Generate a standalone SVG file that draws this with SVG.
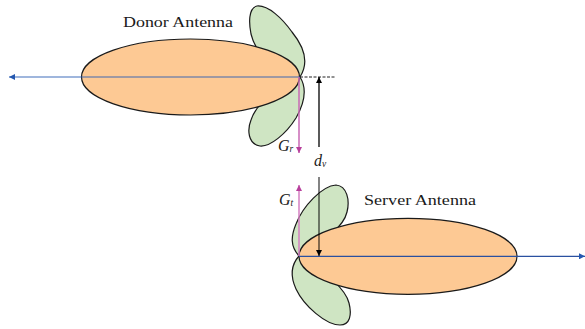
<svg xmlns="http://www.w3.org/2000/svg" width="585" height="329" viewBox="0 0 585 329">
<style>
.ant{fill:#fdc994;stroke:#1a1a1a;stroke-width:1.2}
.lobe{fill:#cfe5c3;stroke:#1a1a1a;stroke-width:1.2}
.lbl{font-family:"Liberation Serif",serif;font-size:15.5px;fill:#1a1a1a}
.sym{font-family:"Liberation Serif",serif;font-size:16px;font-style:italic;fill:#1a1a1a}
.sub{font-size:9.5px}
</style>
<defs>
<marker id="blue" markerUnits="userSpaceOnUse" markerWidth="7" markerHeight="6" refX="6" refY="3" orient="auto"><path d="M0 0L6 3L0 6z" fill="#2558b0"/></marker>
<marker id="black" markerUnits="userSpaceOnUse" markerWidth="7" markerHeight="6" refX="6" refY="3" orient="auto"><path d="M0 0L6 3L0 6z" fill="#000"/></marker>
<marker id="pink" markerUnits="userSpaceOnUse" markerWidth="7" markerHeight="6" refX="6" refY="3" orient="auto"><path d="M0 0L6 3L0 6z" fill="#b83f9c"/></marker>
</defs>
<g id="donor-antenna">
<path class="lobe" d="M300 77C309 63 305 48 292 32C282 18 268 5 257 6C248 8 249 24 251 34C254 46 262 65 300 77Z"/>
<path class="lobe" d="M300 77C307 88 305 102 296 118C286 134 270 147 260 146C248 144 247 130 251 120C255 108 268 92 300 77Z"/>
<ellipse class="ant" cx="190.500" cy="77" rx="109" ry="38"/>
<text class="lbl" x="123" y="26.500" textLength="110" lengthAdjust="spacingAndGlyphs">Donor Antenna</text>
</g>
<g id="server-antenna">
<path class="lobe" d="M299 256C290 246 291 236 296 224C303 206 322 186 336 185C347 186 350 200 347 212C344 226 322 245 299 256Z"/>
<path class="lobe" d="M299 256C290 266 291 278 296 289C304 306 326 325 340 325C350 325 352 315 349 303C346 290 325 270 299 256Z"/>
<ellipse class="ant" cx="408" cy="256.300" rx="109" ry="38"/>
<text class="lbl" x="364" y="204.500" textLength="112" lengthAdjust="spacingAndGlyphs">Server Antenna</text>
</g>
<g id="connectors" fill="none">
<path d="M300 77H9" stroke="#2a5cb3" stroke-width="1.500" stroke-opacity=".6" marker-end="url(#blue)"/>
<path d="M299 256.300H585" stroke="#2a50a0" stroke-width="1.200" marker-end="url(#blue)"/>
<path d="M300 77H336" stroke="#222" stroke-width="1" stroke-dasharray="3 1.500"/>
<path d="M319 147V77" stroke="#000" stroke-width="1.300" marker-end="url(#black)"/>
<path d="M319 177V256" stroke="#000" stroke-width="1.300" stroke-opacity=".75" marker-end="url(#black)"/>
<path d="M299 77V153" stroke="#c868b4" stroke-width="1.500" marker-end="url(#pink)"/>
<path d="M299 256V185" stroke="#d47fc2" stroke-width="1.500" marker-end="url(#pink)"/>
</g>
<g id="labels">
<text class="sym" x="278" y="150.500">G<tspan class="sub" dy="1">r</tspan></text>
<text class="sym" x="314" y="165.500">d<tspan class="sub" dy="1">v</tspan></text>
<text class="sym" x="279" y="204.500">G<tspan class="sub" dy="1">t</tspan></text>
</g>
</svg>
